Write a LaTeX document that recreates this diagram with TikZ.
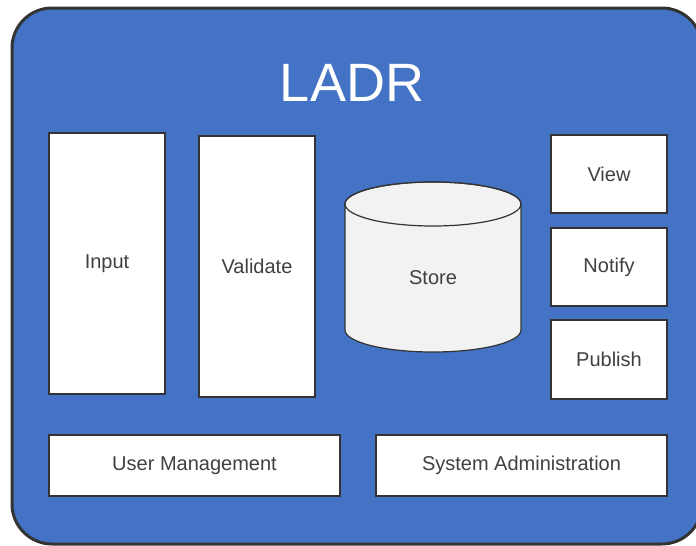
\documentclass[tikz,border=0pt]{standalone}
\usepackage{fontspec}
\setmainfont{Liberation Sans}
\definecolor{ladrblue}{HTML}{4472C4}
\definecolor{ladrline}{HTML}{333333}
\definecolor{ladrtext}{HTML}{404040}
\definecolor{storefill}{HTML}{F2F2F2}
\tikzset{
  part/.style={draw=ladrline, fill=white, line width=1.2pt, text=ladrtext,
    font=\fontsize{20}{24}\selectfont, inner sep=0pt},
  label/.style={text=ladrtext, font=\fontsize{20}{24}\selectfont},
}
\begin{document}
\begin{tikzpicture}[x=1pt,y=-1pt]
\useasboundingbox (0,0) rectangle (696,546);
%\draw [help lines, step=50] (0,0) grid (696,546);
\draw [ladrline, fill=ladrblue, line width=3pt, rounded corners=40pt] (12,8) rectangle (702,544);
\node [white, font=\fontsize{54}{60}\selectfont] (title) at (352,83) {LADR};
% left columns
\node [part, minimum width=116pt, minimum height=261pt] (input) at (107,263.5) {Input};
\node [part, minimum width=116pt, minimum height=261pt] (validate) at (257,266.5) {Validate};
% store
\draw [ladrline, fill=storefill, line width=1.2pt] (345,204) -- (345,330)
  arc [x radius=88, y radius=22, start angle=180, end angle=0] -- (521,204)
  arc [x radius=88, y radius=22, start angle=0, end angle=-180] -- cycle;
\draw [ladrline, line width=1.2pt] (433,204) ellipse [x radius=88, y radius=22];
\node [label] (store) at (433,278) {Store};
% right column
\node [part, minimum width=116pt, minimum height=78pt] (view) at (609,174) {View};
\node [part, minimum width=116pt, minimum height=78pt] (notify) at (609,267) {Notify};
\node [part, minimum width=116pt, minimum height=79pt] (publish) at (609,359.5) {Publish};
% bottom bars
\node [part, minimum width=291pt, minimum height=61pt] (users) at (194.5,465.5) {User Management};
\node [part, minimum width=291pt, minimum height=61pt] (admin) at (521.5,465.5) {System Administration};
\end{tikzpicture}
\end{document}
